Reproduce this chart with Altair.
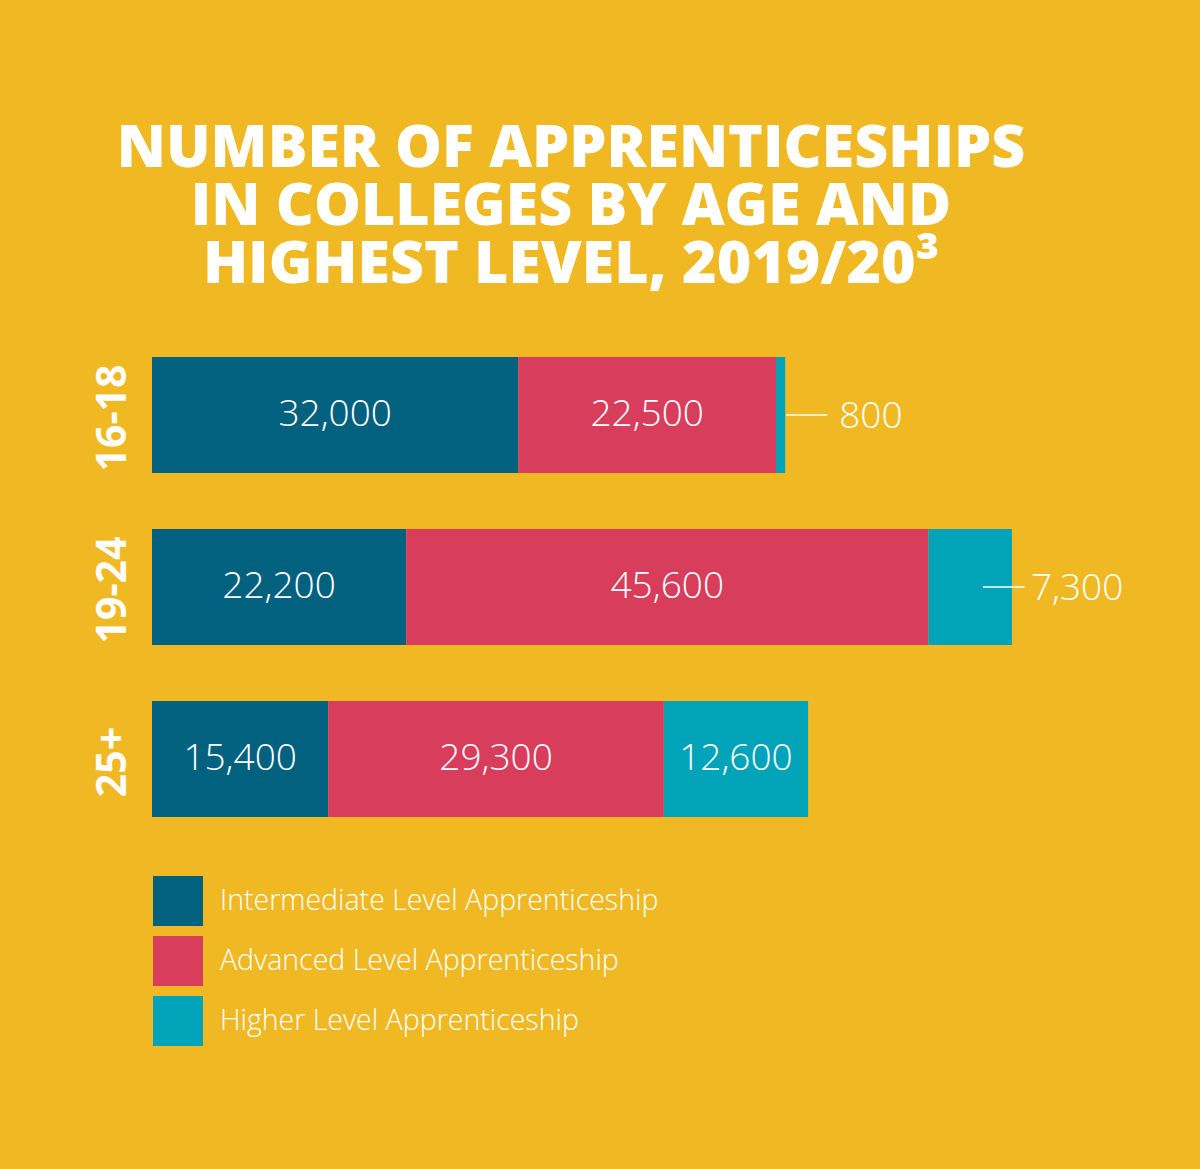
import altair as alt
import pandas as pd

ages = ["16-18", "19-24", "25+"]
levels = ["Intermediate Level Apprenticeship", "Advanced Level Apprenticeship", "Higher Level Apprenticeship"]
intermediate = [32000, 22200, 15400]
advanced = [22500, 45600, 29300]
higher = [800, 7300, 12600]
colors = ["#02617F", "#D93D5C", "#00A3B8"]
title_lines = ["NUMBER OF APPRENTICESHIPS", "IN COLLEGES BY AGE AND", "HIGHEST LEVEL, 2019/20³"]

BG = "#F0B924"
WHITE = "#FFFFFF"

rows = []
for i, age in enumerate(ages):
    start = 0
    for j, (lvl, series) in enumerate(zip(levels, [intermediate, advanced, higher])):
        v = series[i]
        rows.append({"age": age, "level": lvl, "order": j, "value": v,
                     "start": start, "end": start + v, "mid": start + v / 2})
        start += v
df = pd.DataFrame(rows)

xscale = alt.Scale(domain=[0, 100000], range=[152, 1297], nice=False, zero=False)
yscale = alt.Scale(domain=ages, range=[357, 817], paddingInner=0.3256, paddingOuter=0)

base = alt.Chart(df)

bars = base.mark_bar(cornerRadius=0).encode(
    x=alt.X("start:Q", scale=xscale, axis=None),
    x2="end:Q",
    y=alt.Y("age:N", scale=yscale, axis=None),
    color=alt.Color("level:N", scale=alt.Scale(domain=levels, range=colors),
                    legend=alt.Legend(title=None, orient="none", legendX=153, legendY=876,
                                      symbolType="square", symbolSize=2500, symbolStrokeWidth=0,
                                      symbolOpacity=1, labelFont="Open Sans", labelFontSize=28.5,
                                      labelFontWeight=300, labelColor=WHITE, labelOffset=17,
                                      rowPadding=10, padding=0, labelLimit=700)),
    order="order:Q",
)

inside = base.transform_filter("datum.value >= 10000").mark_text(
    font="Open Sans", fontWeight=300, fontSize=37, color=WHITE, align="center", baseline="middle"
).encode(
    x=alt.X("mid:Q", scale=xscale),
    y=alt.Y("age:N", scale=yscale),
    text=alt.Text("value:Q", format=","),
)

callout_layers = []
for val, x_off, x2_off, gap in [(800, 1, 42, 12), (7300, -29, 13, 6)]:
    sub = base.transform_filter(f"datum.value == {val}")
    rule = sub.mark_rule(color=WHITE, strokeWidth=1.5, xOffset=x_off, x2Offset=x2_off).encode(
        x=alt.X("end:Q", scale=xscale),
        x2="end:Q",
        y=alt.Y("age:N", scale=yscale),
    )
    txt = sub.mark_text(font="Open Sans", fontWeight=300, fontSize=37, color=WHITE,
                        align="left", baseline="middle", dx=x2_off + gap, dy=2).encode(
        x=alt.X("end:Q", scale=xscale),
        y=alt.Y("age:N", scale=yscale),
        text=alt.Text("value:Q", format=","),
    )
    callout_layers += [rule, txt]

age_df = pd.DataFrame({"age": ages})
age_labels = alt.Chart(age_df).mark_text(
    font="Open Sans", fontWeight="bold", fontSize=41, color=WHITE, angle=270,
    align="center", baseline="middle", dx=-3
).encode(
    x=alt.value(114),
    y=alt.Y("age:N", scale=yscale),
    text="age:N",
)

title = alt.Chart(pd.DataFrame({"t": [0]})).mark_text(
    font="Open Sans", fontWeight=800, fontSize=59, color=WHITE, align="center",
    baseline="middle", lineHeight=58
).encode(
    x=alt.value(571),
    y=alt.value(149),
    text=alt.value(title_lines),
)

chart = alt.layer(bars, inside, *callout_layers, age_labels, title).properties(
    width=1200, height=1169, background=BG,
    autosize=alt.AutoSizeParams(type="none"), padding=0,
).configure_view(stroke=None)

chart.save("out.html", embed_options={"renderer": "svg", "actions": False})
